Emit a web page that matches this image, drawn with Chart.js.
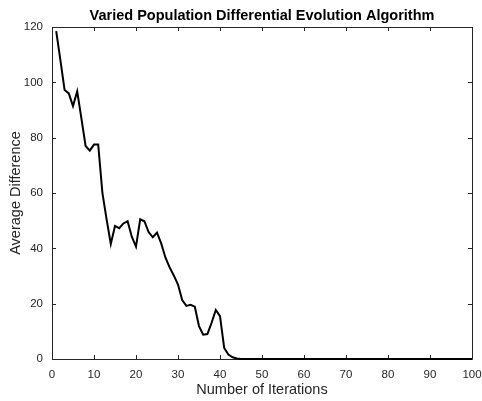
<!DOCTYPE html>
<html>
<head>
<meta charset="utf-8">
<script src="https://cdn.jsdelivr.net/npm/chart.js@4/dist/chart.umd.min.js"></script>
<style>
  html, body { margin: 0; padding: 0; background: #ffffff; }
  canvas { display: block; }
</style>
</head>
<body>
<canvas id="chart" width="482" height="401"></canvas>
<script>
// Labels
const chartTitle = 'Varied Population Differential Evolution Algorithm';
const xAxisLabel = 'Number of Iterations';
const yAxisLabel = 'Average Difference';

// Tick positions
const xTicks = [0, 10, 20, 30, 40, 50, 60, 70, 80, 90, 100];
const yTicks = [0, 20, 40, 60, 80, 100, 120];

// Average difference per iteration (iterations 1..100)
const avgDifference = [
  118.5, 108.0, 97.2, 96.0, 91.4, 96.7, 87.0, 77.0, 75.3, 77.5,
  77.5, 60.0, 50.5, 41.6, 48.1, 47.3, 49.0, 49.8, 44.2, 40.6,
  50.5, 49.8, 45.9, 44.0, 45.7, 41.8, 36.7, 33.1, 30.2, 26.9,
  21.3, 19.2, 19.6, 18.9, 11.9, 8.8, 9.0, 13.1, 17.7, 15.5,
  4.0, 1.6, 0.6, 0.2, 0, 0, 0, 0, 0, 0,
  0, 0, 0, 0, 0, 0, 0, 0, 0, 0,
  0, 0, 0, 0, 0, 0, 0, 0, 0, 0,
  0, 0, 0, 0, 0, 0, 0, 0, 0, 0,
  0, 0, 0, 0, 0, 0, 0, 0, 0, 0,
  0, 0, 0, 0, 0, 0, 0, 0, 0, 0
];

const axisColor = '#262626';
const fontFamily = '"Liberation Sans", Arial, Helvetica, sans-serif';

// Box around the axes with inward tick marks on all four sides
const axesBox = {
  id: 'axesBox',
  beforeDatasetsDraw(chart) {
    const { ctx, chartArea: a, scales: { x, y } } = chart;
    const tickLen = 4;
    ctx.save();
    ctx.strokeStyle = axisColor;
    ctx.lineWidth = 1;
    ctx.beginPath();
    ctx.rect(a.left + 0.5, a.top + 0.5, a.right - a.left, a.bottom - a.top);
    xTicks.forEach(v => {
      const px = Math.round(x.getPixelForValue(v)) + 0.5;
      ctx.moveTo(px, a.bottom); ctx.lineTo(px, a.bottom - tickLen);
      ctx.moveTo(px, a.top); ctx.lineTo(px, a.top + tickLen);
    });
    yTicks.forEach(v => {
      const py = Math.round(y.getPixelForValue(v)) + 0.5;
      ctx.moveTo(a.left, py); ctx.lineTo(a.left + tickLen, py);
      ctx.moveTo(a.right, py); ctx.lineTo(a.right - tickLen, py);
    });
    ctx.stroke();
    ctx.restore();
  }
};

new Chart(document.getElementById('chart'), {
  type: 'line',
  data: {
    datasets: [{
      data: avgDifference.map((v, i) => ({ x: i + 1, y: v })),
      borderColor: '#000000',
      borderWidth: 2,
      pointRadius: 0,
      tension: 0,
      fill: false,
      clip: false
    }]
  },
  plugins: [axesBox],
  options: {
    responsive: false,
    devicePixelRatio: 1,
    animation: false,
    layout: { padding: { top: 0, right: 10, bottom: 0, left: 0 } },
    plugins: {
      legend: { display: false },
      tooltip: { enabled: false },
      title: {
        display: true,
        text: chartTitle,
        fullSize: false,
        color: '#000000',
        font: { family: fontFamily, size: 14.5, weight: 'bold', lineHeight: 1.2 },
        padding: { top: 7.5, bottom: 2.1 }
      }
    },
    scales: {
      x: {
        type: 'linear',
        min: 0,
        max: 100,
        afterBuildTicks: s => { s.ticks = xTicks.map(v => ({ value: v })); },
        afterFit: s => { s.height = 42; s.paddingLeft = 0; s.paddingRight = 0; },
        grid: { display: false, drawTicks: false },
        border: { display: false },
        ticks: {
          color: axisColor,
          padding: 9,
          maxRotation: 0,
          font: { family: fontFamily, size: 11.5 }
        },
        title: {
          display: true,
          text: xAxisLabel,
          color: axisColor,
          font: { family: fontFamily, size: 14.5, lineHeight: 1.2 },
          padding: { top: 0, bottom: 2 }
        }
      },
      y: {
        type: 'linear',
        min: 0,
        max: 120,
        afterBuildTicks: s => { s.ticks = yTicks.map(v => ({ value: v })); },
        afterFit: s => { s.width = 52; s.paddingTop = 0; s.paddingBottom = 0; },
        grid: { display: false, drawTicks: false },
        border: { display: false },
        ticks: {
          color: axisColor,
          padding: 9,
          font: { family: fontFamily, size: 11.5 }
        },
        title: {
          display: true,
          text: yAxisLabel,
          color: axisColor,
          font: { family: fontFamily, size: 14.5, lineHeight: 1.2 },
          padding: { top: 7, bottom: 0 }
        }
      }
    }
  }
});
</script>
</body>
</html>
